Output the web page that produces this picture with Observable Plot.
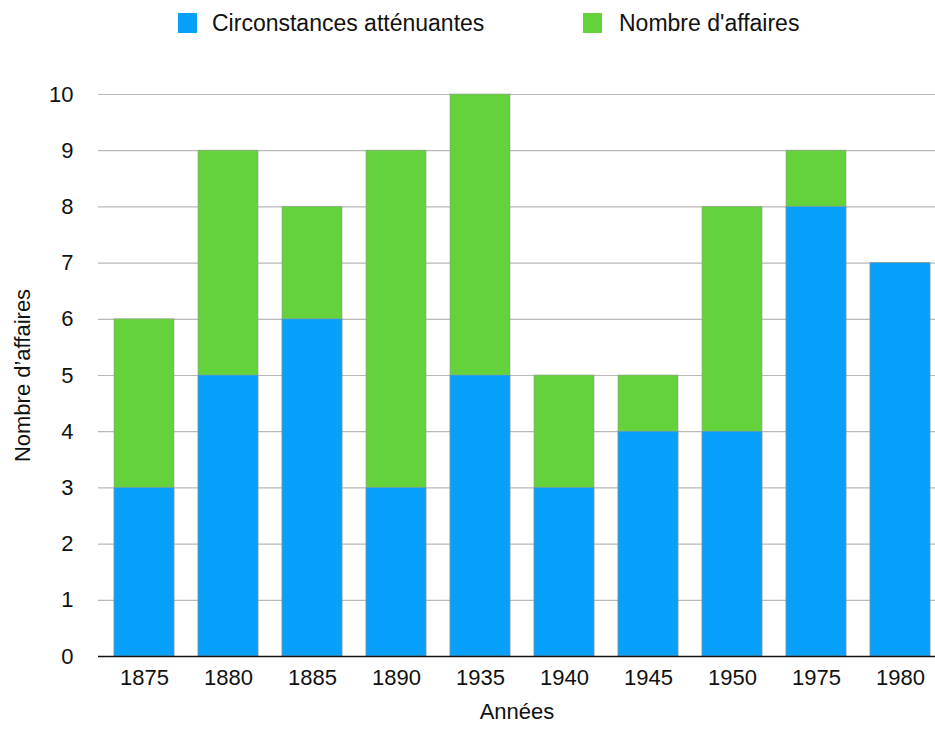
<!DOCTYPE html>
<html>
<head>
<meta charset="utf-8">
<script src="https://cdn.jsdelivr.net/npm/d3@7"></script>
<script src="https://cdn.jsdelivr.net/npm/@observablehq/plot@0.6"></script>
<style>
  body { margin: 0; background: #fff; font-family: "Liberation Sans", Arial, sans-serif; }
  #legend { position: relative; height: 50px; width: 935px; }
  .sw { position: absolute; top: 13px; width: 19px; height: 20px; }
  .lt { position: absolute; top: 9px; font-size: 23px; color: #111; line-height: 28px; white-space: nowrap; }
</style>
</head>
<body>
<div id="legend"></div>
<div id="chart"></div>
<script>
const years = ["1875", "1880", "1885", "1890", "1935", "1940", "1945", "1950", "1975", "1980"];
const circonstances = [3, 5, 6, 3, 5, 3, 4, 4, 8, 7];
const affaires = [6, 9, 8, 9, 10, 5, 5, 8, 9, 7];
const yTicks = [0, 1, 2, 3, 4, 5, 6, 7, 8, 9, 10];
const seriesNames = ["Circonstances atténuantes", "Nombre d'affaires"];
const colors = ["#069ffa", "#64d23a"];

const data = years.map((y, i) => ({year: y, circ: circonstances[i], total: affaires[i]}));

// legend
const legend = document.getElementById("legend");
const legendPos = [{sw: 178, tx: 212}, {sw: 583, tx: 619}];
seriesNames.forEach((name, i) => {
  const s = document.createElement("div");
  s.className = "sw";
  s.style.left = legendPos[i].sw + "px";
  s.style.background = colors[i];
  legend.appendChild(s);
  const t = document.createElement("div");
  t.className = "lt";
  t.style.left = legendPos[i].tx + "px";
  t.textContent = name;
  legend.appendChild(t);
});

const chart = Plot.plot({
  width: 935,
  height: 681,
  marginTop: 44,
  marginLeft: 98,
  marginRight: 0,
  marginBottom: 75,
  style: {fontFamily: "'Liberation Sans', Arial, sans-serif", fontSize: "22px", color: "#111", background: "#fff"},
  x: {type: "band", domain: years, range: [100, 944], paddingInner: 0.29, paddingOuter: 0.145},
  y: {domain: [0, 10]},
  marks: [
    Plot.gridY(yTicks, {stroke: "#b8b8b8", strokeOpacity: 1, strokeWidth: 1.2}),
    Plot.barY(data, {x: "year", y: "total", fill: colors[1], stroke: "#9a9a9a", strokeOpacity: 0.6, strokeWidth: 1}),
    Plot.barY(data, {x: "year", y: "circ", fill: colors[0], stroke: "#9a9a9a", strokeOpacity: 0.6, strokeWidth: 1}),
    Plot.ruleY([0], {stroke: "#111", strokeWidth: 1.5}),
    Plot.axisY(yTicks, {tickSize: 0, tickPadding: 25, label: null, fontSize: 22, tickFormat: d3.format("d")}),
    Plot.axisX({tickSize: 0, tickPadding: 13, label: null, fontSize: 22}),
    Plot.text(["Nombre d’affaires"], {frameAnchor: "left", textAnchor: "middle", dx: -76, rotate: -90, fontSize: 22, fill: "#111"}),
    Plot.text(["Années"], {frameAnchor: "bottom", dy: 62, fontSize: 22, fill: "#111"})
  ]
});
document.getElementById("chart").appendChild(chart);
</script>
</body>
</html>
